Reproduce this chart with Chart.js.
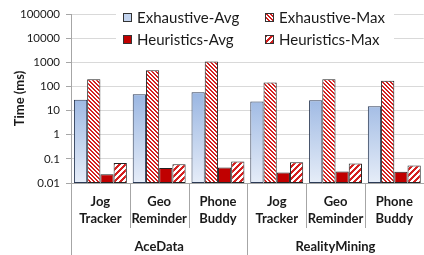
<!DOCTYPE html>
<html>
<head>
<meta charset="utf-8">
<script src="https://cdn.jsdelivr.net/npm/chart.js@4"></script>
<style>
  html, body { margin: 0; padding: 0; background: #fff; }
  #wrap { width: 424px; height: 255px; position: relative; }
</style>
</head>
<body>
<div id="wrap"><canvas id="c" width="424" height="255"></canvas></div>
<script>
// ---- data ----
const categories = [["Jog", "Tracker"], ["Geo", "Reminder"], ["Phone", "Buddy"],
                    ["Jog", "Tracker"], ["Geo", "Reminder"], ["Phone", "Buddy"]];
const groups = ["AceData", "RealityMining"];
const groupSizes = [3, 3];
const seriesNames = ["Exhaustive-Avg", "Exhaustive-Max", "Heuristics-Avg", "Heuristics-Max"];
const exhaustiveAvg = [28, 47, 57, 24, 27, 15];
const exhaustiveMax = [200, 470, 1070, 146, 200, 171];
const heuristicsAvg = [0.023, 0.042, 0.044, 0.027, 0.030, 0.029];
const heuristicsMax = [0.068, 0.060, 0.077, 0.073, 0.064, 0.053];
const tickValues = [0.01, 0.1, 1, 10, 100, 1000, 10000, 100000];
const tickLabels = ["0.01", "0.1", "1", "10", "100", "1000", "10000", "100000"];
const yTitle = "Time (ms)";

// ---- styles ----
const FONT = "Lato, 'Open Sans', 'Noto Sans', sans-serif";
const RED = '#D42020';
function stripePattern(period, width, dir) {
  const cv = document.createElement('canvas');
  cv.width = period; cv.height = period;
  const c = cv.getContext('2d');
  c.fillStyle = '#fff'; c.fillRect(0, 0, period, period);
  c.fillStyle = RED;
  for (let x = 0; x < period; x++) {
    for (let y = 0; y < period; y++) {
      const k = dir === 'back' ? ((x - y) % period + period) % period : (x + y) % period;
      if (k < width) c.fillRect(x, y, 1, 1);
    }
  }
  return c.createPattern(cv, 'repeat');
}
const ctx0 = document.getElementById('c').getContext('2d');
const patExhMax = stripePattern(4, 2, 'back');
const patHeuMax = stripePattern(6, 3, 'fwd');

function blueGradient(context) {
  const chart = context.chart;
  const area = chart.chartArea;
  if (!area) return '#B8CCEA';
  const g = chart.ctx.createLinearGradient(0, area.top + (area.bottom - area.top) * 0.42, 0, area.bottom);
  g.addColorStop(0, '#93B1E0');
  g.addColorStop(1, '#E6EDF8');
  return g;
}

const legendPlugin = {
  id: 'gridLegend',
  afterDatasetsDraw(chart) {
    const ctx = chart.ctx;
    ctx.save();
    ctx.fillStyle = '#fff';
    ctx.fillRect(116, 5, 278, 45);
    ctx.font = '15px ' + FONT;
    const w = ctx.measureText('Exhaustive-Max').width;
    const size = 15 * 106 / w;
    ctx.font = size + 'px ' + FONT;
    ctx.textBaseline = 'middle';
    const cols = [123, 265];
    const rows = [17.5, 39.5];
    const order = [[0, 0, 0], [1, 1, 0], [2, 0, 1], [3, 1, 1]];
    order.forEach(([di, ci, ri]) => {
      const ds = chart.data.datasets[di];
      const x = cols[ci], y = rows[ri];
      const bg = (di === 0) ? '#C3D4EF' : ds.backgroundColor;
      ctx.fillStyle = bg;
      ctx.fillRect(x, y - 4.5, 9, 9);
      ctx.strokeStyle = '#333';
      ctx.lineWidth = 1;
      ctx.strokeRect(x + 0.5, y - 4, 8, 8);
      ctx.fillStyle = '#1a1a1a';
      ctx.fillText(ds.label, x + 14, y + 0.5);
    });
    ctx.restore();
  }
};

const groupPlugin = {
  id: 'groupAxis',
  afterDraw(chart) {
    const xs = chart.scales.x;
    const ctx = chart.ctx;
    const n = categories.length;
    const cw = (xs.right - xs.left) / n;
    const base = chart.chartArea.bottom;
    ctx.save();
    ctx.strokeStyle = '#A6A6A6';
    ctx.lineWidth = 1;
    // boundaries
    let majors = [0];
    let acc = 0;
    groupSizes.forEach(s => { acc += s; majors.push(acc); });
    for (let i = 0; i <= n; i++) {
      const px = Math.round(xs.left + i * cw) + 0.5;
      const isMajor = majors.includes(i);
      ctx.beginPath();
      ctx.moveTo(px, base);
      ctx.lineTo(px, isMajor ? chart.height : base + 45);
      ctx.stroke();
    }
    // group labels
    ctx.fillStyle = '#1a1a1a';
    ctx.font = 'bold 13px ' + FONT;
    ctx.textAlign = 'center';
    ctx.textBaseline = 'middle';
    let start = 0;
    groups.forEach((g, gi) => {
      const a = xs.left + start * cw;
      const b = xs.left + (start + groupSizes[gi]) * cw;
      ctx.fillText(g, (a + b) / 2, 246.5);
      start += groupSizes[gi];
    });
    ctx.restore();
  }
};

new Chart(ctx0, {
  type: 'bar',
  data: {
    labels: categories,
    datasets: [
      { label: seriesNames[0], data: exhaustiveAvg, backgroundColor: blueGradient, borderColor: '#2B3A55' },
      { label: seriesNames[1], data: exhaustiveMax, backgroundColor: patExhMax, borderColor: '#222' },
      { label: seriesNames[2], data: heuristicsAvg, backgroundColor: '#C00000', borderColor: '#222' },
      { label: seriesNames[3], data: heuristicsMax, backgroundColor: patHeuMax, borderColor: '#222' }
    ]
  },
  options: {
    responsive: false,
    animation: false,
    devicePixelRatio: 1,
    layout: { padding: { top: 14, right: 0, bottom: 0, left: 0 } },
    datasets: {
      bar: { categoryPercentage: 0.9, barPercentage: 1.0, borderWidth: 1, borderSkipped: false }
    },
    plugins: {
      legend: { display: false },
      tooltip: { enabled: false }
    },
    scales: {
      x: {
        grid: { display: false, drawTicks: false },
        border: { display: true, color: '#A6A6A6' },
        ticks: {
          color: '#1a1a1a',
          font: { family: FONT, size: 13, weight: 'bold', lineHeight: 1.27 },
          padding: 11,
          maxRotation: 0,
          autoSkip: false
        },
        afterFit(s) { s.height = 72; }
      },
      y: {
        type: 'logarithmic',
        min: 0.01,
        max: 100000,
        afterBuildTicks(s) { s.ticks = tickValues.map(v => ({ value: v })); },
        grid: { color: '#D9D9D9', tickColor: '#A6A6A6', tickLength: 5, drawTicks: true },
        border: { display: true, color: '#A6A6A6' },
        ticks: {
          color: '#1a1a1a',
          font: { family: FONT, size: 11.5 },
          padding: 6,
          callback(v, i) { return tickLabels[i]; }
        },
        title: {
          display: true,
          text: yTitle,
          color: '#1a1a1a',
          font: { family: FONT, size: 13, weight: 'bold' },
          padding: { top: 12, bottom: 0 }
        },
        afterFit(s) { s.width = 71; }
      }
    }
  },
  plugins: [legendPlugin, groupPlugin]
});
</script>
</body>
</html>
